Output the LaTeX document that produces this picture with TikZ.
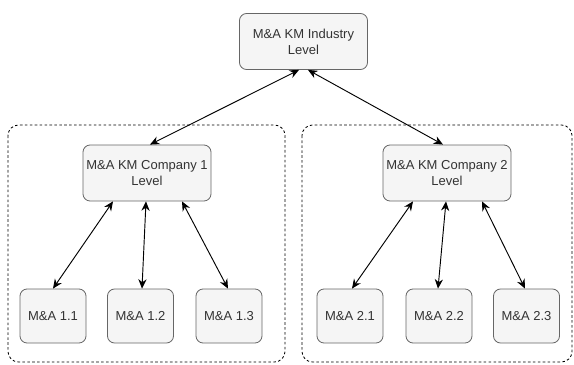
\documentclass[tikz,border=0pt]{standalone}
\usepackage{fontspec}
\setmainfont{Liberation Sans}
\usetikzlibrary{arrows.meta}
\definecolor{boxfill}{HTML}{F5F5F5}
\definecolor{boxline}{HTML}{666666}
\definecolor{txt}{HTML}{333333}
\tikzset{
  kmbox/.style={draw=boxline, line width=0.7pt, fill=boxfill, rounded corners=6pt, text=txt,
    align=center, inner sep=0pt, font=\fontsize{11.1}{13.6}\selectfont},
  bigbox/.style={kmbox, minimum width=128*0.03cm, minimum height=56*0.03cm},
  leafbox/.style={kmbox, minimum width=66*0.03cm, minimum height=54*0.03cm},
  frame/.style={draw=black, line width=0.7pt, dash pattern=on 2.2pt off 2pt, rounded corners=9pt},
  link/.style={{Stealth[length=8pt,width=7pt]}-{Stealth[length=8pt,width=7pt]}, black, line width=0.8pt}
}
\begin{document}
\begin{tikzpicture}[x=0.03cm,y=-0.03cm]
\useasboundingbox (0,0) rectangle (574,365);
\draw[frame] (8,125) rectangle (285,362);
\draw[frame] (302,125) rectangle (572,362);
\node[bigbox] (ind) at (303.5,41.5) {M\&A KM Industry\\Level};
\node[bigbox] (c1) at (147,173) {M\&A KM Company 1\\Level};
\node[bigbox] (c2) at (447,173) {M\&A KM Company 2\\Level};
\node[leafbox] (l11) at (53,316) {M\&A 1.1};
\node[leafbox] (l12) at (140.5,316) {M\&A 1.2};
\node[leafbox] (l13) at (229,316) {M\&A 1.3};
\node[leafbox] (l21) at (350,316) {M\&A 2.1};
\node[leafbox] (l22) at (439,316) {M\&A 2.2};
\node[leafbox] (l23) at (526.5,316) {M\&A 2.3};
\draw[link] ([shift={(-4.5,0)}]ind.south) -- ([shift={(3,0)}]c1.north);
\draw[link] ([shift={(4.5,0)}]ind.south) -- ([shift={(-4,0)}]c2.north);
\draw[link] ([shift={(-34,0)}]c1.south) -- (l11.north);
\draw[link] ([shift={(-1,0)}]c1.south) -- ([shift={(1.5,0)}]l12.north);
\draw[link] ([shift={(35,0)}]c1.south) -- ([shift={(-1,0)}]l13.north);
\draw[link] ([shift={(-34,0)}]c2.south) -- ([shift={(2,0)}]l21.north);
\draw[link] ([shift={(-1,0)}]c2.south) -- ([shift={(-1,0)}]l22.north);
\draw[link] ([shift={(35,0)}]c2.south) -- ([shift={(-1.5,0)}]l23.north);
\end{tikzpicture}
\end{document}
